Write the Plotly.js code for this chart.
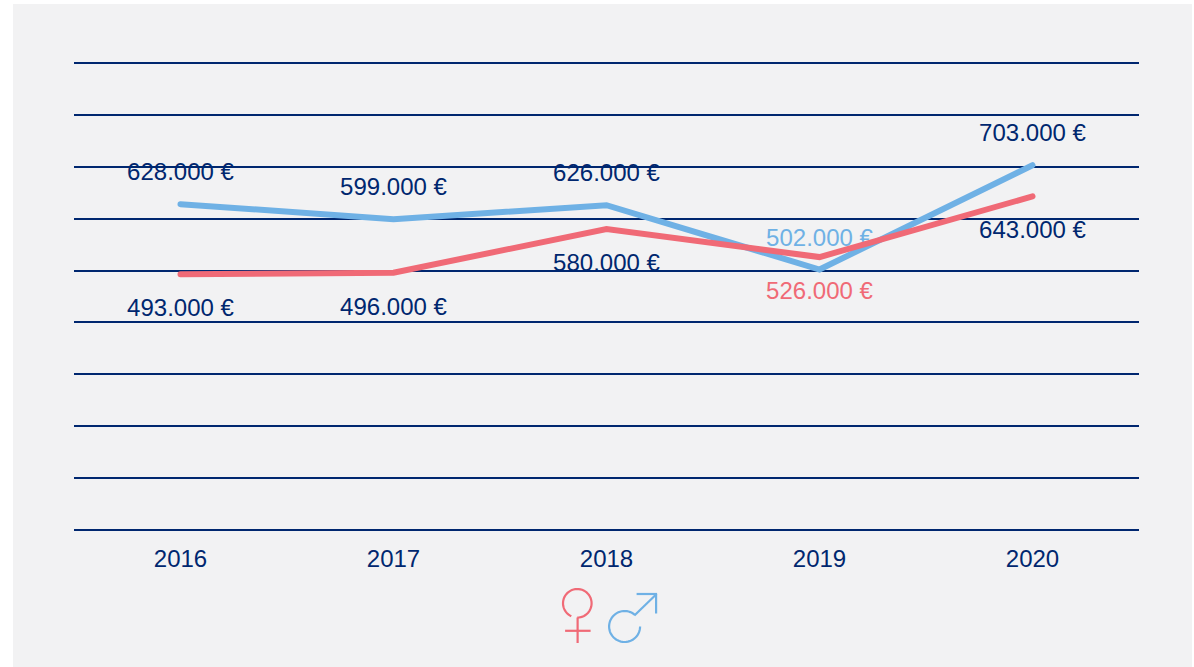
<!DOCTYPE html>
<html>
<head>
<meta charset="utf-8">
<script src="https://cdn.plot.ly/plotly-3.0.1.min.js"></script>
<style>
html,body{margin:0;padding:0;background:#fff;overflow:hidden}
#chart{position:absolute;left:13px;top:4px;width:1179px;height:663px}
</style>
</head>
<body>
<div id="chart"></div>
<script>
var years = ['2016','2017','2018','2019','2020'];
var male = [628000,599000,626000,502000,703000];
var female = [493000,496000,580000,526000,643000];
var maleLabels = ['628.000 €','599.000 €','626.000 €','502.000 €','703.000 €'];
var femaleLabels = ['493.000 €','496.000 €','580.000 €','526.000 €','643.000 €'];
var yTicks = [0,100000,200000,300000,400000,500000,600000,700000,800000,900000];

var NAVY = '#00276f', BLUE = '#6fb1e5', RED = '#f06a76', PANEL = '#f2f2f3';
var W = 1179, H = 663, ML = 61.3, MR = 52.5, MT = 58, MB = 136;

function labelColors(accent){ return years.map(function(y){ return y === '2019' ? accent : NAVY; }); }
function labelTrace(vals, text, pos, accent, gap){
  return {x: years, y: vals, mode: 'markers+text', text: text, textposition: pos,
    marker: {size: gap, opacity: 0},
    textfont: {family: 'Liberation Sans, Arial, sans-serif', size: 24, color: labelColors(accent)},
    hoverinfo: 'skip', showlegend: false, cliponaxis: false};
}
function lineTrace(vals, color){
  return {x: years, y: vals, mode: 'lines', line: {color: color, width: 6}, showlegend: false, cliponaxis: false};
}
// page pixels to paper fractions, for the two sex symbols under the axis
function px(x){ return (x - 13 - ML) / (W - ML - MR); }
function py(y){ return 1 - (y - 4 - MT) / (H - MT - MB); }
function seg(path, color){
  return {type: 'path', xref: 'paper', yref: 'paper', path: path, line: {color: color, width: 2.2}, layer: 'above'};
}
function poly(pts){
  return pts.map(function(p, i){ return (i ? 'L' : 'M') + px(p[0]).toFixed(5) + ',' + py(p[1]).toFixed(5); }).join(' ');
}
function arc(cx, cy, r, a0, a1){
  var pts = [];
  for (var i = 0; i <= 48; i++){
    var a = (a0 + (a1 - a0) * i / 48) * Math.PI / 180;
    pts.push([cx + r * Math.cos(a), cy + r * Math.sin(a)]);
  }
  return poly(pts);
}
var symbols = [
  seg(arc(577.7, 603.3, 14.3, 90, -245), RED),
  seg(poly([[578,617.5],[578,643]]), RED),
  seg(poly([[565.5,630.8],[591,630.8]]), RED),
  seg(arc(625, 626.5, 15.5, 0, 311), BLUE),
  seg(poly([[634.8,615.5],[656.5,594.5]]), BLUE),
  seg(poly([[637,594],[657.5,594]]), BLUE),
  seg(poly([[656.5,594],[656.5,613.5]]), BLUE)
];

var data = [
  labelTrace(male, maleLabels, 'top center', BLUE, 27),
  labelTrace(female, femaleLabels, 'bottom center', RED, 37),
  lineTrace(male, BLUE),
  lineTrace(female, RED)
];
var layout = {
  width: W, height: H,
  margin: {l: ML, r: MR, t: MT, b: MB, pad: 0},
  paper_bgcolor: PANEL, plot_bgcolor: PANEL,
  showlegend: false,
  font: {family: 'Liberation Sans, Arial, sans-serif', color: NAVY, size: 24},
  xaxis: {type: 'category', categoryorder: 'array', categoryarray: years, range: [-0.5, 4.5],
    showgrid: false, zeroline: false, showline: false, ticks: 'outside', ticklen: 6, tickcolor: 'rgba(0,0,0,0)',
    tickfont: {size: 24, color: NAVY}},
  yaxis: {range: [-2000, 902000], tickvals: yTicks, showticklabels: false, ticks: '',
    showgrid: true, gridcolor: NAVY, gridwidth: 2, zeroline: false, showline: false},
  shapes: symbols
};
Plotly.newPlot('chart', data, layout, {displayModeBar: false, staticPlot: true}).then(function(){
  document.querySelectorAll('#chart .js-line').forEach(function(el){ el.style.strokeLinecap = 'round'; });
});
</script>
</body>
</html>
